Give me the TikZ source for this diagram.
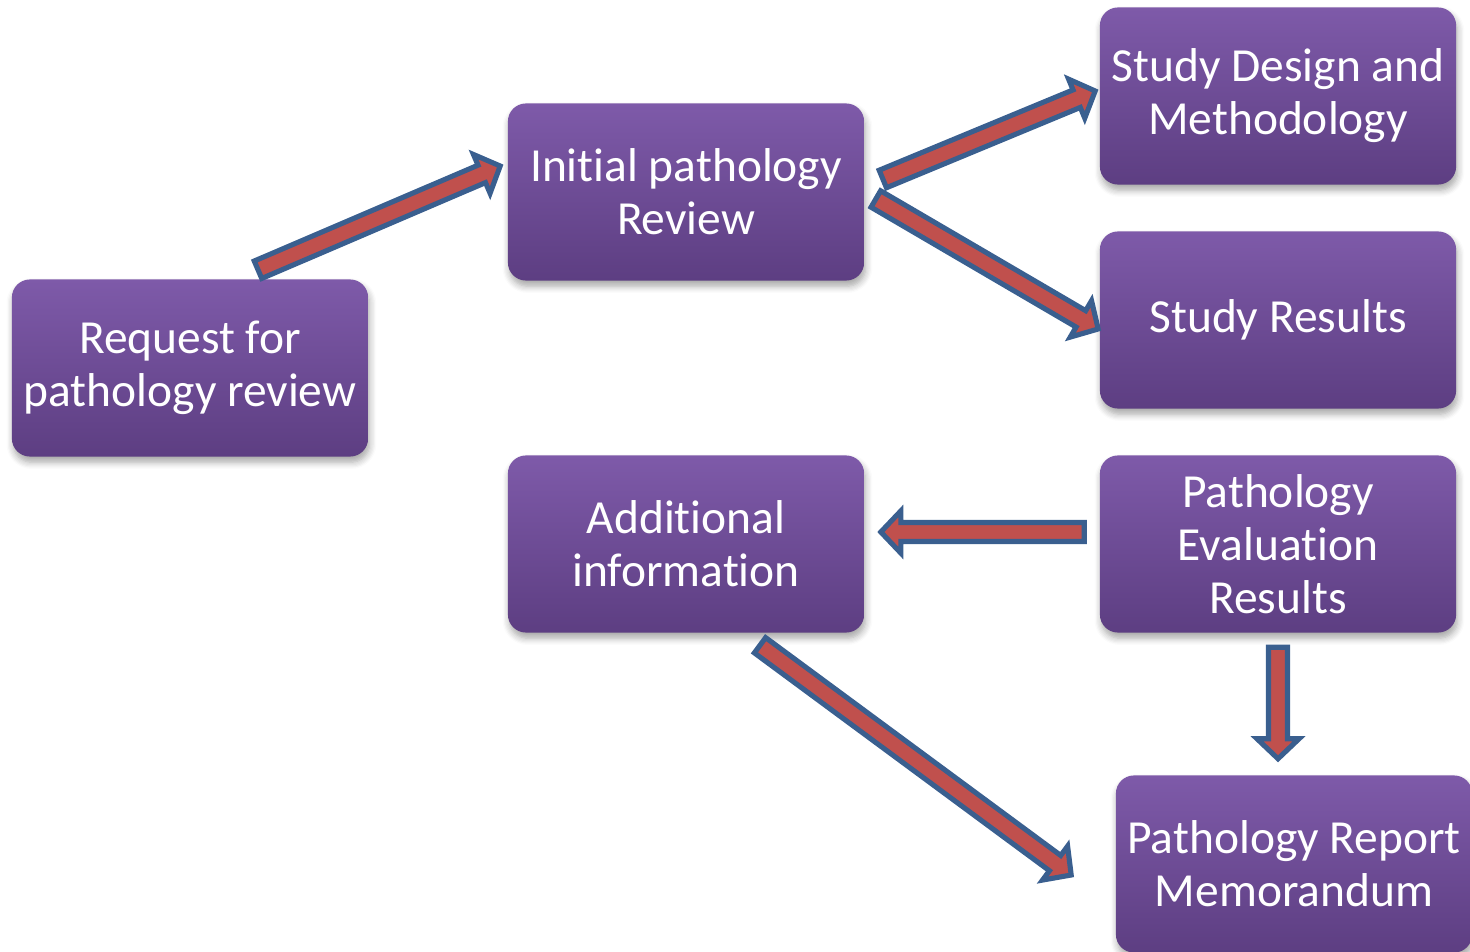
\documentclass[tikz,border=0pt]{standalone}
\usepackage{fontspec}
\setmainfont[RawFeature={-liga;-clig;-calt;-dlig}]{Carlito}
\usetikzlibrary{calc,shadows.blur}
\definecolor{boxtop}{HTML}{7E5AA9}
\definecolor{boxbot}{HTML}{5D3E82}
\definecolor{arrowfill}{HTML}{C0504D}
\definecolor{arrowline}{HTML}{3A5F8F}
\tikzset{
  box/.style={rectangle, rounded corners=0.18cm, minimum width=3.56cm, minimum height=1.77cm,
    inner sep=0pt, top color=boxtop, bottom color=boxbot, text=white, align=center,
    font=\fontsize{13.5}{15.1}\selectfont,
    blur shadow={shadow xshift=0.4pt, shadow yshift=-1.6pt, shadow blur steps=6, shadow opacity=35}},
  fat/.style={fill=arrowfill, draw=arrowline, line width=1.45pt, line join=miter}
}
\newcommand{\fatarrow}[2]{%
  \coordinate (s) at (#1);
  \coordinate (e) at (#2);
  \coordinate (n) at ($(e)!5.7pt!(s)$);
  \filldraw[fat] ($(s)!2.7pt!90:(e)$) -- ($(n)!2.7pt!90:(e)$) -- ($(n)!6pt!90:(e)$) -- (e)
    -- ($(n)!6pt!-90:(e)$) -- ($(n)!2.7pt!-90:(e)$) -- ($(s)!2.7pt!-90:(e)$) -- cycle;
}
\begin{document}
\begin{tikzpicture}[x=0.01cm, y=-0.01cm]
        \useasboundingbox (0,0) rectangle (1470,952);

        \node[box] (req) at (190,368) {Request for\\pathology review};
        \node[box] (init) at (686,192) {Initial pathology\\Review};
        \node[box] (design) at (1278,96) {Study Design and\\Methodology};
        \node[box] (results) at (1278,320) {Study Results};
        \node[box] (addinfo) at (686,544) {Additional\\information};
        \node[box] (evalres) at (1278,544) {Pathology\\Evaluation\\Results};
        \node[box] (report) at (1294,864) {Pathology Report\\Memorandum};

        \fatarrow{$(req.north)+(68,-9)$}{$(init.west)+(-7,-26)$}
        \fatarrow{$(init.east)+(18,-13)$}{$(design.west)+(-4,-5)$}
        \fatarrow{$(init.east)+(11,7)$}{$(results.west)+(-1,9)$}
        \fatarrow{$(evalres.west)+(-15,-12)$}{$(addinfo.east)+(16,-12)$}
        \fatarrow{$(evalres.south)+(0,14)$}{$(report.north)+(-16,-16)$}
        \fatarrow{$(addinfo.south)+(74,12)$}{$(report.west)+(-44,11)$}
\end{tikzpicture}
\end{document}
